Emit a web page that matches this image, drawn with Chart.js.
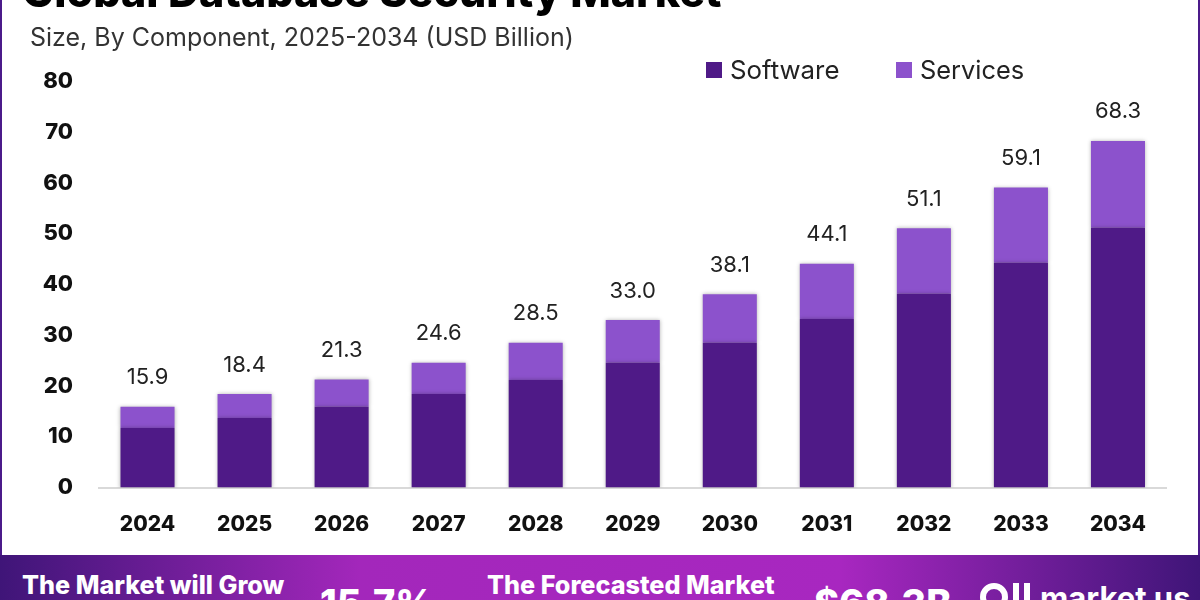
<!DOCTYPE html>
<html>
<head>
<meta charset="utf-8">
<title>Global Database Security Market</title>
<script src="https://cdn.jsdelivr.net/npm/chart.js@4"></script>
<style>
    html, body { margin: 0; padding: 0; background: #fff; }
    body { width: 1200px; height: 600px; position: relative; overflow: hidden; font-family: Inter, sans-serif; color: #111; }
    canvas { position: absolute; left: 0; top: 0; }
    .side { position: absolute; top: 0; width: 2px; height: 556px; background: #4b1a8a; }
    .txt { position: absolute; white-space: nowrap; line-height: 1; }
    .banner { position: absolute; left: 0; top: 555px; width: 1200px; height: 45px; overflow: hidden;
        background: linear-gradient(90deg, #3f1578 0%, #a327bb 30%, #a827c0 70%, #3f1578 100%); color: #fff; }
    .banner .txt { font-weight: 800; }
    .swatch { position: absolute; width: 16px; height: 16px; }
</style>
</head>
<body>
<div class="side" style="left:0"></div>
<div class="side" style="right:0"></div>
<canvas id="chartMarket" width="1200" height="600"></canvas>

<div class="txt" id="title" style="left:22px;top:-30px;font-size:43px;font-weight:800;color:#000">Global Database Security Market</div>
<div class="txt" id="subtitle" style="left:30px;top:25px;font-size:25px;color:#333">Size, By Component, 2025-2034 (USD Billion)</div>

<div class="swatch" style="left:706px;top:62px;background:#4f1a87"></div>
<div class="txt" style="left:730px;top:57px;font-size:25.8px;color:#222">Software</div>
<div class="swatch" style="left:896px;top:62px;background:#8c52cc"></div>
<div class="txt" style="left:920px;top:57px;font-size:25.4px;color:#222">Services</div>

<div class="banner">
    <div class="txt" style="left:22px;top:18px;font-size:25.2px">The Market will Grow</div>
    <div class="txt" style="left:320px;top:29px;font-size:38px">15.7%</div>
    <div class="txt" style="left:487px;top:18px;font-size:25.2px">The Forecasted Market</div>
    <div class="txt" style="left:814px;top:29px;font-size:38px">$68.3B</div>
    <div class="txt" style="left:1040px;top:27px;font-size:31px;font-weight:700">market us</div>
    <div style="position:absolute;left:980px;top:28px;width:28px;height:28px;border:6px solid #fff;border-radius:50%;box-sizing:border-box"></div>
    <div style="position:absolute;left:1013px;top:28px;width:6px;height:22px;background:#fff"></div>
    <div style="position:absolute;left:1024px;top:28px;width:6px;height:22px;background:#fff"></div>
</div>

<script>
// Données
const years = ['2024', '2025', '2026', '2027', '2028', '2029', '2030', '2031', '2032', '2033', '2034'];
const software = [11.7, 13.7, 15.9, 18.4, 21.2, 24.6, 28.5, 33.2, 38.2, 44.3, 51.2];
const services = [4.2, 4.7, 5.4, 6.2, 7.3, 8.4, 9.6, 10.9, 12.9, 14.8, 17.1];
const totals = [15.9, 18.4, 21.3, 24.6, 28.5, 33.0, 38.1, 44.1, 51.1, 59.1, 68.3];
const yTicks = [0, 10, 20, 30, 40, 50, 60, 70, 80];

const FONT = 'Inter, sans-serif';

// Ombre légère des barres
const barShadow = {
    id: 'barShadow',
    beforeDatasetsDraw(chart) {
        chart.ctx.save();
        chart.ctx.shadowColor = 'rgba(0,0,0,0.3)';
        chart.ctx.shadowBlur = 4;
    },
    afterDatasetsDraw(chart) {
        chart.ctx.restore();
    }
};

// Totaux au-dessus des barres
const totalLabels = {
    id: 'totalLabels',
    afterDatasetsDraw(chart) {
        const { ctx, scales: { x, y } } = chart;
        ctx.save();
        ctx.shadowColor = 'transparent';
        ctx.font = '400 22px ' + FONT;
        ctx.fillStyle = '#222';
        ctx.textAlign = 'center';
        ctx.textBaseline = 'middle';
        totals.forEach((total, i) => {
            ctx.fillText(total.toFixed(1), x.getPixelForValue(i), y.getPixelForValue(total) - 29);
        });
        ctx.restore();
    }
};

new Chart(document.getElementById('chartMarket'), {
    type: 'bar',
    data: {
        labels: years,
        datasets: [
            { label: 'Software', data: software, backgroundColor: '#4f1a87', stack: 'total' },
            { label: 'Services', data: services, backgroundColor: '#8c52cc', stack: 'total' }
        ]
    },
    options: {
        responsive: false,
        animation: false,
        devicePixelRatio: 1,
        barPercentage: 0.557,
        categoryPercentage: 1,
        layout: { padding: { top: 81.5, right: 33.5, bottom: 52.5, left: 0 } },
        plugins: {
            legend: { display: false },
            title: { display: false },
            tooltip: { enabled: false }
        },
        scales: {
            x: {
                stacked: true,
                grid: { display: false, drawTicks: false },
                border: { color: '#d9d9d9', width: 2 },
                afterFit(scale) { scale.height = 60; },
                ticks: {
                    padding: 25,
                    maxRotation: 0,
                    color: '#111',
                    font: { family: FONT, size: 21, weight: '800' }
                }
            },
            y: {
                stacked: true,
                min: 0,
                max: 80,
                grid: { display: false, drawTicks: false },
                border: { display: false },
                afterBuildTicks(scale) { scale.ticks = yTicks.map(value => ({ value })); },
                afterFit(scale) { scale.width = 99; scale.paddingTop = 0; scale.paddingBottom = 0; },
                ticks: {
                    padding: 26,
                    color: '#111',
                    font: { family: FONT, size: 22, weight: '800' }
                }
            }
        }
    },
    plugins: [barShadow, totalLabels]
});
</script>
</body>
</html>
